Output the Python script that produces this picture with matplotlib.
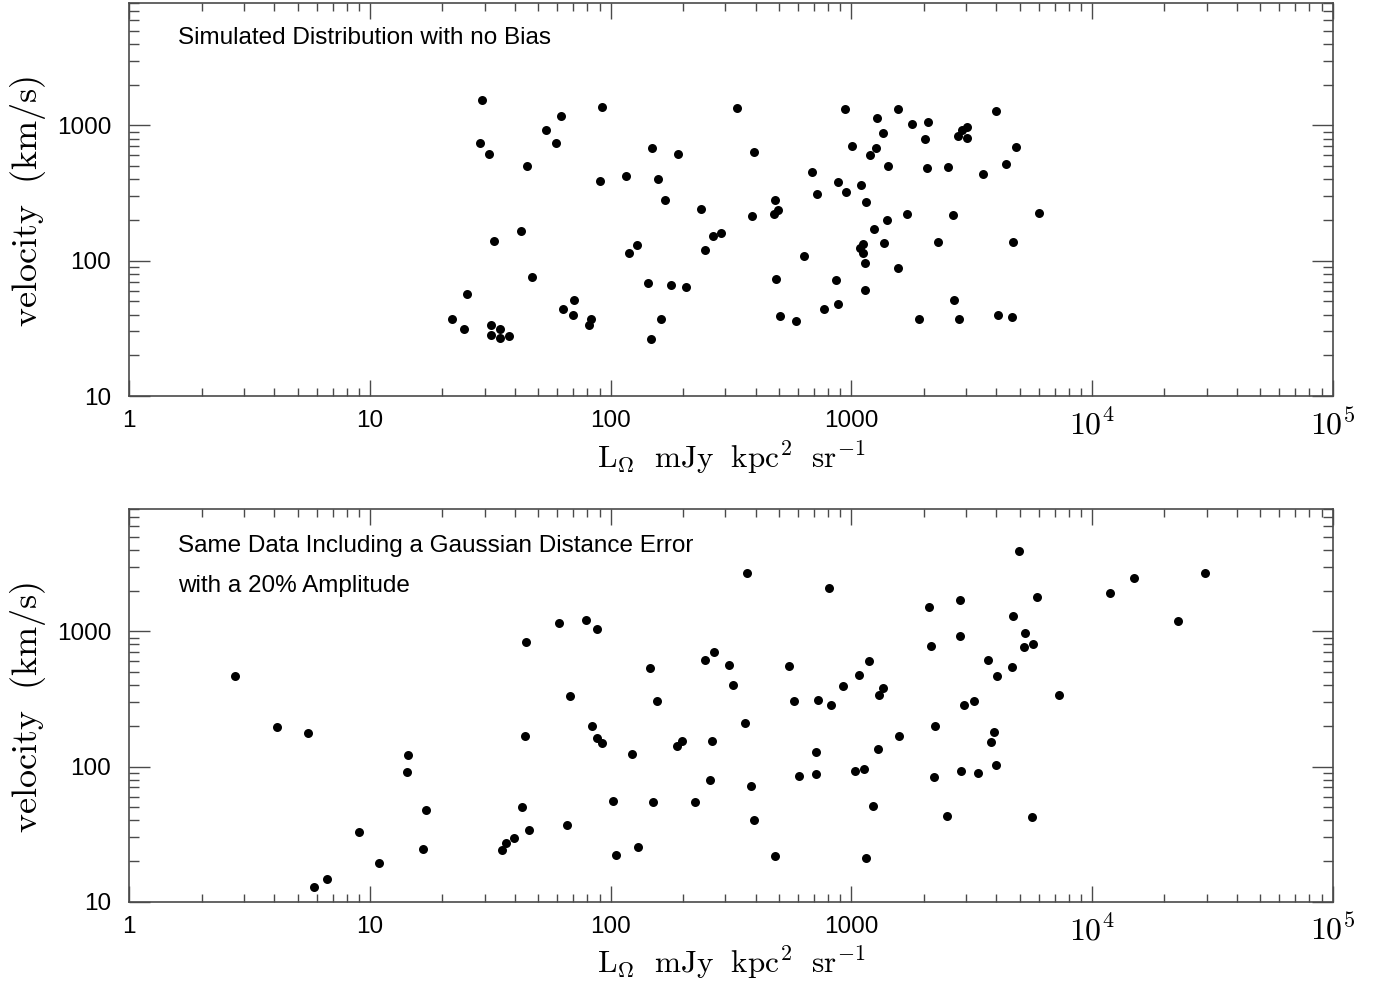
import numpy as np
import matplotlib
matplotlib.use("Agg")
import matplotlib.pyplot as plt
from matplotlib.ticker import LogLocator, NullFormatter, FixedLocator, FixedFormatter

plt.rcParams['font.family'] = ['Liberation Sans', 'DejaVu Sans']
plt.rcParams['mathtext.fontset'] = 'cm'

# ---------------- data ----------------
# Top panel: simulated distribution with no bias
lum_top = [29.3, 28.7, 31.1, 44.8, 54.0, 62.3, 59.3, 92.0, 90.0, 32.8,
           42.3, 47.0, 25.4, 21.9, 24.6, 31.8, 34.6, 31.7, 34.8, 37.8,
           63.6, 70.4, 69.5, 83.1, 81.5, 115.8, 118.8, 128.6, 148.9, 157.2,
           168.1, 189.8, 142.9, 177.6, 204.9, 161.3, 147.1, 237.3, 246.5, 266.9,
           287.2, 335.7, 393.9, 387.5, 480.0, 495.6, 475.6, 484.8, 506.6, 590.3,
           635.5, 689.1, 717.4, 771.6, 863.0, 882.2, 879.6, 949.5, 943.0, 1003,
           1102, 1150, 1083, 1123, 1117, 1139, 1139, 1241, 1362, 1413,
           1417, 1200, 1268, 1278, 1350, 1562, 1562, 1794, 2075, 2028,
           2055, 1705, 2290, 1915, 2527, 2651, 2668, 2791, 2773, 2881,
           3030, 3013, 3512, 3988, 4388, 4829, 4679, 4064, 4634, 6000]
vel_top = [1530, 740, 618, 504, 930, 1165, 745, 1365, 386, 139,
           165, 75.2, 56.3, 37.3, 31.1, 33.4, 31.4, 28.3, 26.7, 27.9,
           43.9, 51.1, 39.6, 37.4, 33.4, 420, 114.2, 130.8, 680, 399,
           279.6, 618, 68.6, 66.3, 64.1, 37.2, 26.2, 241.2, 120.2, 151.6,
           161.5, 1351, 635, 215.6, 282.9, 238.8, 221.5, 72.7, 39.1, 35.6,
           108.0, 452, 311, 43.9, 72.4, 48.0, 379.6, 323, 1324, 708,
           363.8, 273.5, 125.2, 132.4, 114.6, 95.8, 60.3, 170.8, 136.2, 199,
           504, 604, 684, 1140, 873, 1319, 88.5, 1026, 1052, 788,
           487, 223.4, 137.6, 37.4, 496, 217.8, 51.4, 36.8, 834, 919,
           972, 802, 440, 1275, 522, 692, 137.6, 39.4, 38.5, 225.3]

# Bottom panel: same data including a Gaussian distance error (20%)
lum_bot = [2.757, 4.108, 5.527, 14.34, 14.25, 17.09, 9.00, 16.56, 10.93, 6.646,
           5.836, 44.5, 61.2, 78.7, 88.0, 367.3, 804.8, 67.7, 44.2, 83.9,
           87.5, 92.0, 145.2, 156.2, 122.9, 188.0, 197.8, 247.6, 267.9, 311.0,
           321.3, 361.4, 263.6, 258.6, 383.8, 395.0, 223.4, 149.5, 102.0, 105.5,
           129.5, 65.7, 42.8, 45.9, 39.7, 36.8, 35.3, 483.0, 550.5, 577.5,
           724.4, 826.6, 925.3, 1075.5, 1186.5, 1302, 1353, 710.7, 712.7, 605.7,
           1032, 1128, 1294, 1233, 1153, 1584, 4956, 2107, 2834, 4679,
           5886, 2136, 2834, 5248, 5213, 5697, 3684, 4634, 4015, 7265,
           3222, 2936, 2232, 3901, 3802, 3988, 2845, 3347, 2197, 2496,
           5611, 11834, 14935, 29540, 22745]
vel_bot = [466, 196.6, 177.5, 121.4, 90.9, 47.6, 32.9, 24.6, 19.4, 14.7,
           12.8, 841, 1154, 1223, 1036, 2720, 2094, 333, 168.6, 197.9,
           161.4, 149.7, 540, 302.8, 123.5, 142.2, 154.1, 614.7, 709, 563.6,
           399.6, 208.3, 153.6, 79.3, 71.6, 39.96, 54.8, 54.3, 55.5, 22.0,
           25.2, 36.7, 50.1, 33.9, 29.4, 27.3, 24.2, 21.8, 557, 307,
           311, 287.7, 392.9, 473.8, 601, 337, 384.2, 128.4, 87.9, 84.5,
           92.5, 95.2, 135.1, 51.2, 20.9, 169.2, 3908, 1525, 1698, 1309,
           1786, 780, 931, 968, 767, 807, 611.6, 545.6, 471.4, 335.4,
           304.3, 285.8, 198.9, 180.5, 150.7, 101.9, 92.0, 89.8, 83.5, 42.8,
           42.1, 1935, 2469, 2702, 1188]

x_ticks = [1, 10, 100, 1000, 1e4, 1e5]
x_ticklabels = ['1', '10', '100', '1000', r'$10^4$', r'$10^5$']
y_ticks = [10, 100, 1000]
y_ticklabels = ['10', '100', '1000']

top_notes = ["Simulated Distribution with no Bias"]
bot_notes = ["Same Data Including a Gaussian Distance Error", "with a 20% Amplitude"]

ylabel = r'$\mathrm{velocity\ \ (km/s)}$'
xlabel = r'$\mathrm{L_{\Omega}\ \ mJy\ \ kpc^{2}\ \ sr^{-1}}$'

# ---------------- figure ----------------
W, H = 1375, 989
fig = plt.figure(figsize=(W / 100, H / 100), dpi=100)

spine_col = '#4a4a4a'

def px_axes(l, r, t, b):
    return [l / W, 1 - b / H, (r - l) / W, (b - t) / H]

def style(ax):
    ax.set_xscale('log')
    ax.set_yscale('log')
    ax.set_xlim(1, 1e5)
    ax.set_ylim(10, 8000)
    ax.xaxis.set_major_locator(FixedLocator(x_ticks))
    ax.xaxis.set_major_formatter(FixedFormatter(x_ticklabels))
    ax.xaxis.set_minor_locator(LogLocator(base=10, subs=np.arange(2, 10), numticks=20))
    ax.xaxis.set_minor_formatter(NullFormatter())
    ax.yaxis.set_major_locator(FixedLocator(y_ticks))
    ax.yaxis.set_major_formatter(FixedFormatter(y_ticklabels))
    ax.yaxis.set_minor_locator(LogLocator(base=10, subs=np.arange(2, 10), numticks=20))
    ax.yaxis.set_minor_formatter(NullFormatter())
    ax.tick_params(which='both', direction='in', top=True, right=True,
                   color=spine_col, width=1.0, labelsize=17.5)
    ax.tick_params(axis='x', which='major', length=11.5, pad=10)
    ax.tick_params(axis='x', which='minor', length=6)
    ax.tick_params(axis='y', which='major', length=15, pad=13)
    ax.tick_params(axis='y', which='minor', length=7)
    for lab in ax.get_xticklabels():
        if lab.get_text().startswith('$'):
            lab.set_fontsize(23)
    for s in ax.spines.values():
        s.set_color(spine_col)
        s.set_linewidth(1.2)

ax1 = fig.add_axes(px_axes(129.3, 1332.7, 3.3, 396))
ax2 = fig.add_axes(px_axes(129.3, 1332.7, 509.3, 901.7))

ax1.scatter(lum_top, vel_top, s=42, c='black', linewidths=0, zorder=3)
ax2.scatter(lum_bot, vel_bot, s=42, c='black', linewidths=0, zorder=3)

for ax in (ax1, ax2):
    style(ax)

ax1.text(0.0407, 0.8963, top_notes[0], transform=ax1.transAxes,
         fontsize=17.5, va='baseline', ha='left')
ax2.text(0.0407, 0.892, bot_notes[0], transform=ax2.transAxes,
         fontsize=17.5, va='baseline', ha='left')
ax2.text(0.0407, 0.790, bot_notes[1], transform=ax2.transAxes,
         fontsize=17.5, va='baseline', ha='left')

# axis labels
fig.text(28 / W, 1 - 201 / H, ylabel, rotation=90, ha='center', va='center', fontsize=26)
fig.text(28 / W, 1 - 707 / H, ylabel, rotation=90, ha='center', va='center', fontsize=26)
fig.text(731 / W, 1 - 468 / H, xlabel, ha='center', va='baseline', fontsize=22.5)
fig.text(731 / W, 1 - 973 / H, xlabel, ha='center', va='baseline', fontsize=22.5)

fig.savefig('out.png', dpi=100)
